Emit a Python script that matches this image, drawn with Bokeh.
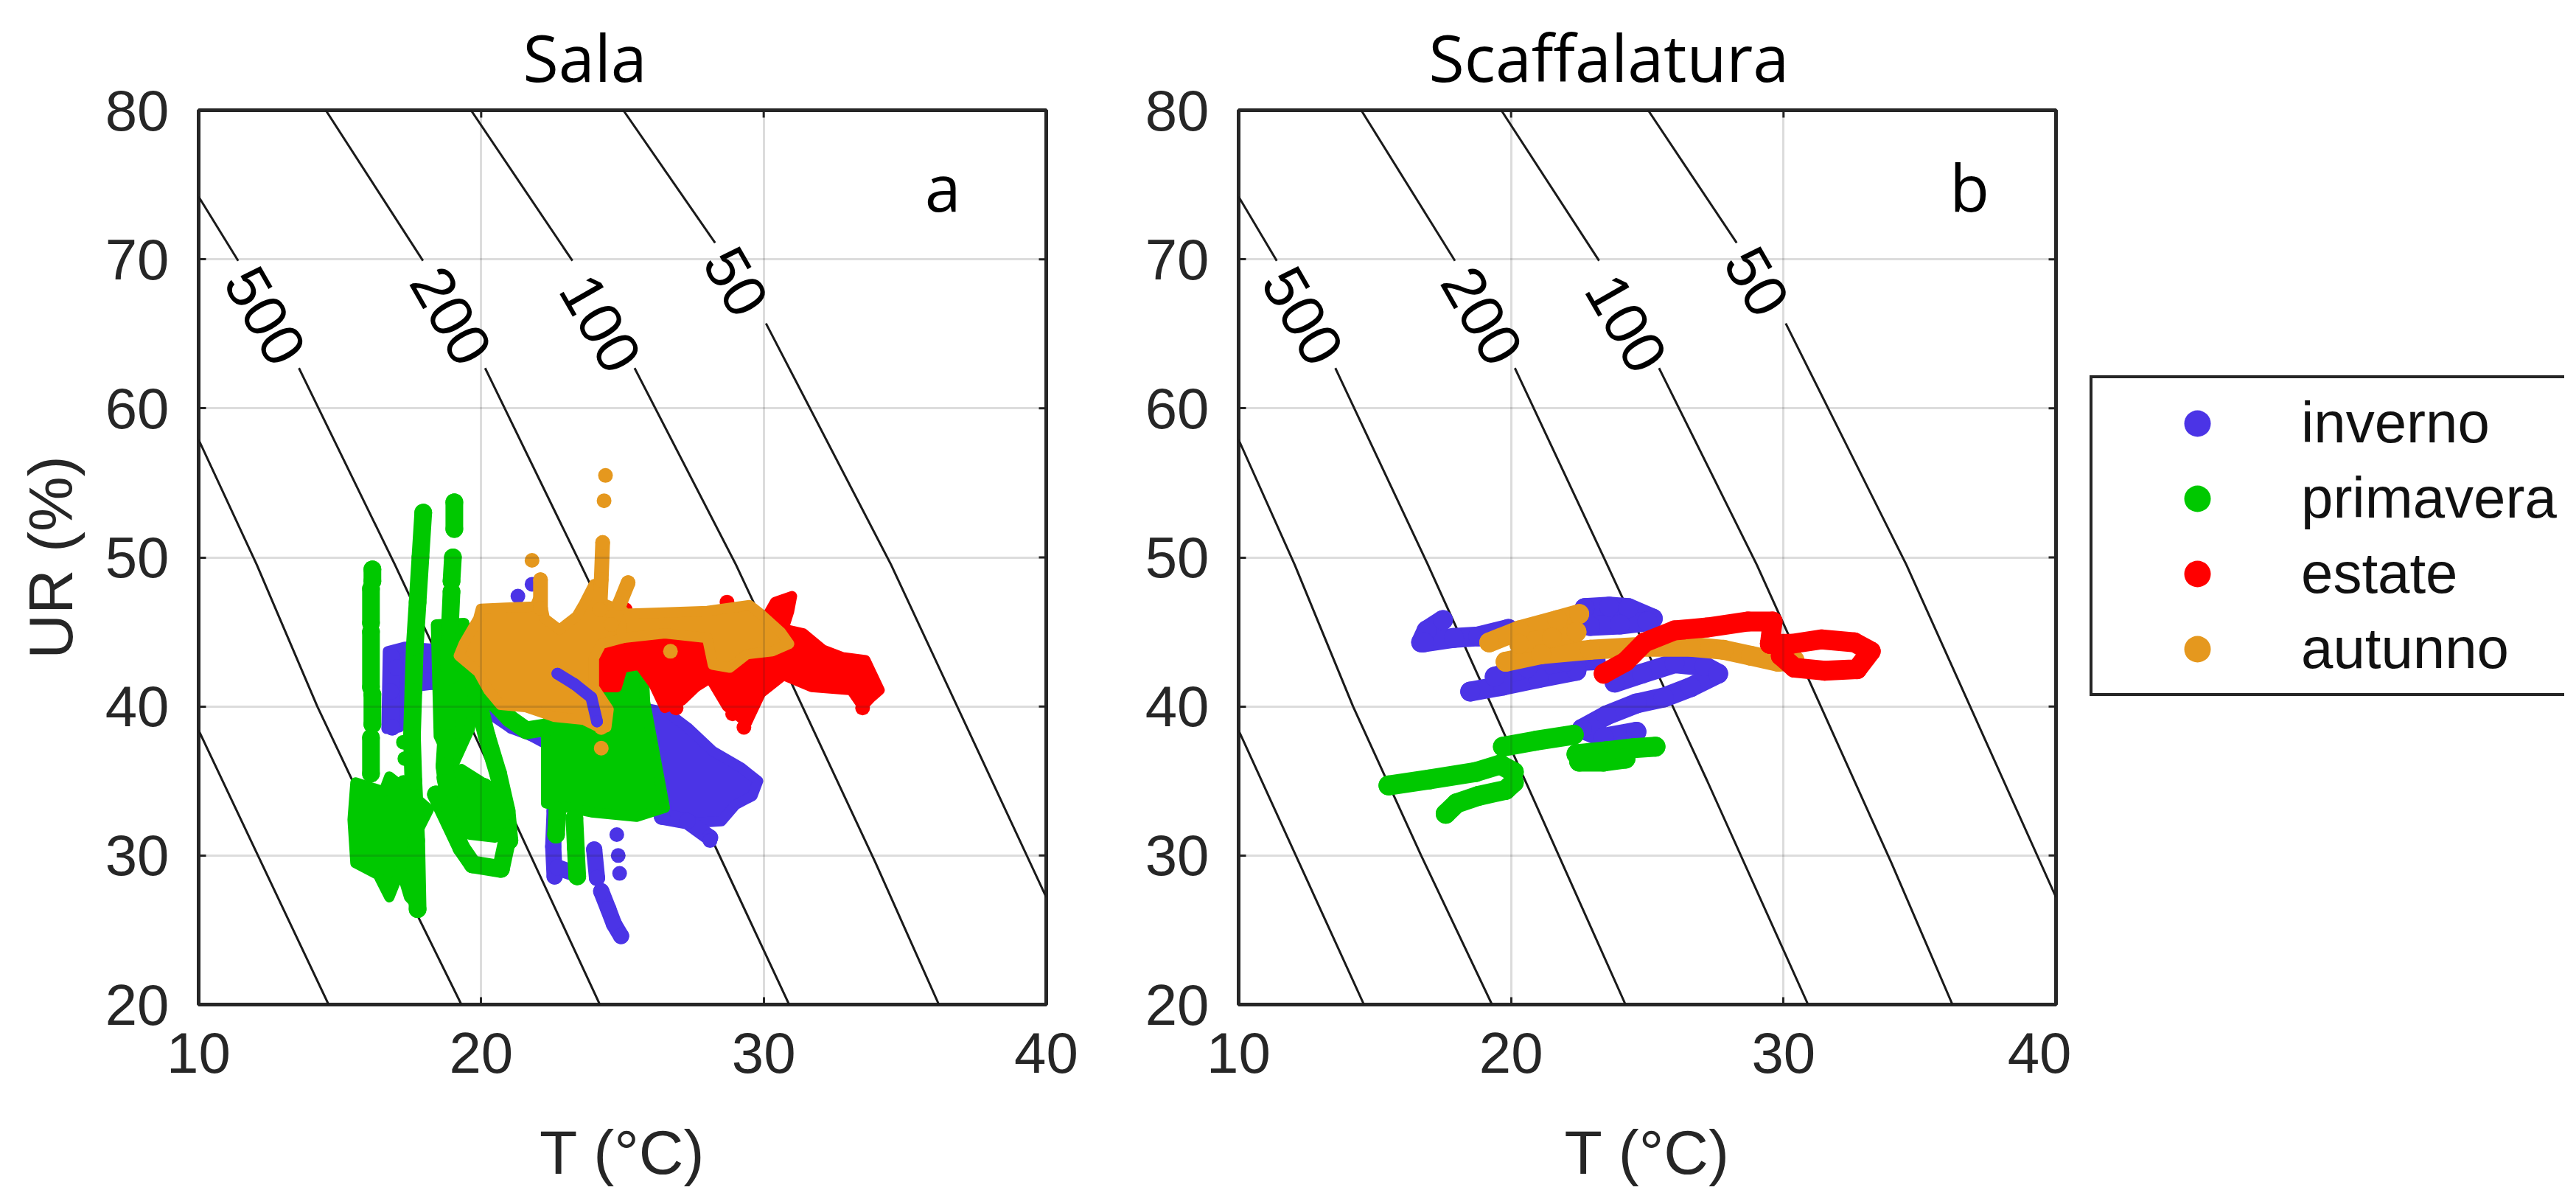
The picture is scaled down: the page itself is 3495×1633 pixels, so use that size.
from bokeh.plotting import figure
from bokeh.layouts import row
from bokeh.models import Range1d, FixedTicker, Legend, LegendItem
from bokeh.core.properties import value
from bokeh.embed import file_html
from bokeh.resources import INLINE

# ---------------- categories / ticks ----------------
season_names = ["inverno", "primavera", "estate", "autunno"]
season_colors = ["#4b34e6", "#00c800", "#ff0000", "#e5981e"]
panel_titles = ["Sala", "Scaffalatura"]
panel_letters = ["a", "b"]
x_tick_values = [10, 20, 30, 40]
y_tick_values = [20, 30, 40, 50, 60, 70, 80]

# ---------------- isochrones (T in degC, RH in %) ----------------
iso_label_text = ["500", "200", "100", "50"]
iso_label_T = [12.36, 18.94, 24.23, 29.02]
iso_label_RH = [66.2, 66.2, 65.7, 68.5]
iso_seg_T = [
    [10.0, 12.1, 14.6],
    [10.0, 12.06, 14.2, 16.7, 19.3],
    [10.0, 11.4],
    [13.55, 16.95, 19.3, 24.2],
    [14.5, 17.94],
    [20.14, 23.53, 27.2, 30.9],
    [19.64, 23.23],
    [25.43, 29.02, 30.85, 33.96, 36.2],
    [25.03, 28.28],
    [30.08, 34.51, 40.0],
]
iso_seg_RH = [
    [38.4, 30.0, 20.0],
    [57.9, 49.5, 40.0, 30.0, 20.0],
    [74.2, 69.9],
    [62.7, 49.5, 40.0, 20.0],
    [80.0, 69.9],
    [62.7, 49.5, 35.0, 20.0],
    [80.0, 69.9],
    [62.7, 49.5, 42.1, 29.5, 20.0],
    [80.0, 71.1],
    [65.7, 49.5, 27.2],
]

# ---------------- panel a (Sala) ----------------
a_inverno_strokes_T = [
    [16.85, 16.8, 16.85], [17.0, 17.8, 18.7], [17.7, 18.5],
    [19.6, 19.9, 20.4, 21.1, 21.8, 22.3],
    [22.6, 22.55, 22.6], [22.7, 23.3], [24.0, 24.1],
    [24.25, 24.5, 24.7, 24.95], [26.4, 27.3, 28.1],
]
a_inverno_strokes_RH = [
    [43.3, 41.0, 38.6], [42.6, 43.2, 42.8], [41.8, 41.6],
    [42.6, 41.0, 39.6, 38.7, 38.2, 37.7],
    [33.0, 30.6, 28.6], [29.2, 28.8], [30.4, 28.5],
    [27.6, 26.4, 25.4, 24.6], [32.6, 32.3, 31.2],
]
a_inverno_blobs_T = [
    [24.4, 25.5, 26.6, 27.3, 28.2, 29.2, 29.8, 29.6, 29.0, 28.5, 27.7, 26.6, 26.0, 25.5, 24.8],
    [16.7, 17.3, 18.7, 18.8, 17.2, 17.1, 16.65],
]
a_inverno_blobs_RH = [
    [40.0, 40.0, 39.6, 38.6, 37.0, 35.9, 35.0, 34.0, 33.4, 32.3, 32.2, 32.5, 35.0, 38.0, 39.2],
    [43.7, 44.0, 43.8, 41.6, 41.2, 38.6, 38.5],
]
a_inverno_dots_T = [21.3, 21.8, 24.8, 24.85, 24.9, 28.1]
a_inverno_dots_RH = [47.4, 48.2, 31.4, 30.0, 28.8, 31.0]
a_inverno_over_T = [[22.7, 23.3, 23.9, 24.1]]
a_inverno_over_RH = [[42.2, 41.5, 40.6, 39.0]]

a_primavera_strokes_T = [
    [16.15, 16.15], [16.1, 16.1], [16.1, 16.1], [16.15, 16.15], [16.1, 16.1],
    [17.95, 17.85, 17.75, 17.65, 17.6, 17.55, 17.6, 17.7, 17.75],
    [19.05, 19.05], [19.0, 18.95], [18.95, 18.9],
    [18.9, 18.85, 18.8, 18.7, 18.9, 19.2],
    [19.3, 19.8, 20.2, 20.6, 20.9, 21.0],
    [18.4, 19.3, 19.7, 20.7, 20.95, 20.1],
    [19.4, 20.2, 21.0, 21.6, 22.3],
    [23.3, 23.35, 23.4], [22.7, 22.65],
]
a_primavera_strokes_RH = [
    [49.2, 48.4], [47.9, 45.6], [45.0, 41.3], [40.8, 38.8], [37.9, 35.5],
    [53.0, 50.0, 47.0, 44.0, 41.0, 38.0, 35.0, 31.0, 26.4],
    [53.7, 51.9], [50.0, 48.4], [47.7, 45.6],
    [45.2, 42.0, 39.0, 36.0, 33.0, 31.0],
    [44.5, 41.0, 38.0, 35.5, 33.0, 31.0],
    [34.1, 30.5, 29.4, 29.1, 31.3, 34.6],
    [43.5, 40.8, 39.2, 38.4, 38.6],
    [32.5, 30.5, 28.6], [33.0, 31.4],
]
a_primavera_blobs_T = [
    [15.55, 16.55, 16.75, 17.55, 18.15, 17.75, 17.55, 17.75, 17.45, 17.15, 16.75, 16.35, 15.55, 15.45],
    [22.3, 23.5, 24.3, 25.1, 25.75, 25.8, 26.5, 25.5, 23.9, 22.3],
    [18.4, 19.4, 19.8, 19.6, 19.0, 18.5],
    [18.6, 19.3, 20.3, 20.9, 20.5, 19.6, 18.9],
]
a_primavera_blobs_RH = [
    [34.9, 34.3, 35.3, 34.1, 33.1, 31.6, 29.9, 26.6, 27.2, 29.1, 27.2, 28.7, 29.5, 32.4],
    [38.9, 40.6, 40.3, 43.2, 42.5, 40.3, 33.2, 32.6, 32.9, 33.5],
    [45.5, 45.6, 41.5, 38.5, 36.0, 38.0],
    [35.2, 35.8, 34.6, 32.2, 31.2, 31.4, 32.6],
]
a_primavera_dots_T = [17.25, 17.3, 17.25]
a_primavera_dots_RH = [37.6, 36.5, 34.9]

a_estate_blobs_T = [[24.1, 25.0, 26.1, 27.2, 28.1, 28.9, 29.5, 30.1, 30.4, 31.0, 30.9, 30.7, 31.4, 32.1, 32.8,
                     33.6, 33.8, 34.1, 33.8, 33.5, 33.1, 31.7, 30.7, 29.9, 29.5, 29.4, 28.7, 28.1, 27.6,
                     27.1, 26.5, 26.1, 25.6, 25.0, 24.8, 24.2]]
a_estate_blobs_RH = [[44.1, 44.6, 44.8, 44.7, 44.6, 44.6, 46.0, 46.0, 47.0, 47.4, 46.4, 45.2, 44.9, 43.8, 43.3,
                      43.1, 42.3, 41.1, 40.6, 40.0, 41.1, 41.3, 42.1, 40.9, 39.3, 38.9, 40.0, 41.9, 41.3,
                      40.4, 39.9, 41.5, 42.8, 42.6, 41.3, 41.3]]
a_estate_dots_T = [28.7, 25.2, 25.1, 29.3, 28.9, 26.9, 33.5]
a_estate_dots_RH = [47.0, 46.1, 46.5, 38.6, 39.5, 39.9, 39.9]

a_autunno_blobs_T = [
    [19.99, 20.86, 21.9, 22.08, 22.25, 22.77, 23.38, 23.64, 23.99, 24.34, 25.03, 25.03, 24.25, 23.99,
     23.99, 24.51, 24.43, 24.17, 23.64, 22.6, 21.56, 20.69, 20.25, 19.9, 19.21, 19.38, 19.9],
    [24.9, 26.5, 28.0, 29.5, 29.9, 30.6, 30.9, 30.3, 29.4, 28.8, 28.2, 28.0, 26.5, 25.0],
]
a_autunno_blobs_RH = [
    [46.55, 46.63, 46.7, 47.5, 45.9, 45.15, 46.05, 46.9, 48.2, 46.9, 46.4, 44.6, 44.2, 43.25,
     41.27, 39.8, 38.6, 38.6, 39.1, 39.3, 39.96, 40.1, 41.1, 42.3, 43.4, 44.2, 45.9],
    [46.2, 46.3, 46.4, 46.8, 46.2, 45.0, 44.2, 43.7, 43.5, 42.6, 42.8, 44.6, 44.9, 44.6],
]
a_autunno_strokes_T = [[24.3, 24.25, 24.2], [24.6, 24.9, 25.2], [22.1, 22.1], [24.25, 24.25]]
a_autunno_strokes_RH = [[51.0, 48.5, 46.5], [45.5, 46.9, 48.3], [48.5, 46.6], [40.1, 38.6]]
a_autunno_dots_T = [24.4, 24.35, 21.8, 24.25, 26.7]
a_autunno_dots_RH = [55.5, 53.8, 49.8, 37.2, 43.7]

# ---------------- panel b (Scaffalatura) ----------------
b_inverno_strokes_T = [
    [16.7, 16.9, 17.5], [16.8, 17.9, 18.8, 19.9],
    [22.7, 23.6, 24.3, 25.2], [22.9, 24.0, 25.0],
    [18.5, 19.7, 21.0, 22.4], [19.4, 20.6, 22.0, 23.1],
    [23.8, 24.8, 26.0, 27.1, 27.6, 26.6, 25.6, 24.6, 23.5, 22.6, 23.4, 24.6],
]
b_inverno_strokes_RH = [
    [44.3, 45.1, 45.8], [44.3, 44.6, 44.7, 45.2],
    [46.6, 46.7, 46.6, 45.9], [45.4, 45.5, 45.7],
    [41.0, 41.4, 41.9, 42.4], [42.0, 42.6, 43.0, 43.1],
    [41.6, 42.2, 42.9, 42.7, 42.2, 41.3, 40.6, 40.2, 39.4, 38.5, 37.9, 38.3],
]
b_primavera_strokes_T = [
    [15.5, 17.0, 18.7, 19.6, 20.1], [20.1, 19.8, 18.8, 18.0, 17.6],
    [19.7, 20.9, 22.3], [22.4, 23.5, 24.5, 25.3], [22.5, 23.4, 24.2],
]
b_primavera_strokes_RH = [
    [34.7, 35.1, 35.6, 36.1, 35.6], [34.9, 34.4, 34.0, 33.5, 32.8],
    [37.3, 37.7, 38.1], [36.8, 37.0, 37.2, 37.3], [36.3, 36.3, 36.5],
]
b_estate_strokes_T = [
    [23.4, 24.2, 24.9, 26.0, 27.2, 28.7, 29.6, 29.5],
    [29.5, 30.3, 31.4, 32.6, 33.2, 32.7, 31.5, 30.4, 29.9],
]
b_estate_strokes_RH = [
    [42.2, 43.0, 44.3, 45.1, 45.3, 45.7, 45.7, 44.2],
    [44.2, 44.2, 44.5, 44.3, 43.7, 42.5, 42.4, 42.6, 43.4],
]
b_autunno_strokes_T = [
    [19.2, 20.3, 21.7, 22.5],
    [19.8, 21.1, 22.9, 24.8, 26.6, 27.8, 28.8, 29.8, 30.4],
    [20.3, 21.5, 22.4],
]
b_autunno_strokes_RH = [
    [44.3, 45.1, 45.8, 46.2],
    [43.0, 43.5, 43.8, 44.0, 44.0, 43.8, 43.4, 43.0, 43.1],
    [44.2, 44.6, 45.0],
]

letter_T = [35.7, 36.1]
letter_RH = [74.9, 74.9]

INK = "#262626"
COL = dict(zip(season_names, season_colors))
TOP, BOTTOM = 149, 255
TICK_PX = 10


def style_ticks(ax):
    ax.axis_line_color = None
    ax.major_tick_in = TICK_PX
    ax.major_tick_out = 0
    ax.major_tick_line_width = 3
    ax.major_tick_line_color = INK
    ax.minor_tick_line_color = None


def base_panel(width, height, left, right, title, title_offset, ylabel):
    p = figure(width=width, height=height, output_backend="svg", toolbar_location=None,
               x_range=Range1d(10, 40), y_range=Range1d(20, 80),
               min_border_left=left, min_border_right=right, min_border_top=TOP, min_border_bottom=BOTTOM)
    p.title.text = title
    p.title.text_font = "Open Sans"
    p.title.text_font_size = "88px"
    p.title.text_font_style = "normal"
    p.title.text_color = "#000000"
    p.title.align = "left"
    p.title.offset = title_offset
    p.title.standoff = 25
    for ax in (p.xaxis[0], p.yaxis[0]):
        style_ticks(ax)
        ax.major_label_text_font = "Liberation Sans"
        ax.major_label_text_font_size = "78px"
        ax.major_label_text_color = INK
        ax.axis_label_text_font = "Liberation Sans"
        ax.axis_label_text_font_size = "84px"
        ax.axis_label_text_font_style = "normal"
        ax.axis_label_text_color = INK
    p.xaxis.ticker = FixedTicker(ticks=x_tick_values)
    p.yaxis.ticker = FixedTicker(ticks=y_tick_values)
    p.xaxis.axis_label = "T (°C)"
    p.xaxis.major_label_standoff = 38
    p.xaxis.axis_label_standoff = 58
    p.yaxis.major_label_standoff = 40
    if ylabel:
        p.yaxis.axis_label = ylabel
        p.yaxis.axis_label_standoff = 24
    p.outline_line_color = INK
    p.outline_line_width = 5
    p.outline_line_alpha = 1
    for g in (p.xgrid[0], p.ygrid[0]):
        g.grid_line_color = INK
        g.grid_line_alpha = 0.16
        g.grid_line_width = 3
        g.level = "overlay"
    p.background_fill_color = "white"
    p.border_fill_color = "white"
    # inward box ticks on the top and right edges, at the tick values
    frame_w = width - left - right
    frame_h = height - TOP - BOTTOM
    dy = TICK_PX * 60.0 / frame_h
    dx = TICK_PX * 30.0 / frame_w
    p.segment(x0=x_tick_values, x1=x_tick_values, y0=[80] * len(x_tick_values),
              y1=[80 - dy] * len(x_tick_values), line_color=INK, line_width=3)
    p.segment(x0=[40] * len(y_tick_values), x1=[40 - dx] * len(y_tick_values),
              y0=y_tick_values, y1=y_tick_values, line_color=INK, line_width=3)
    # isochrones
    p.multi_line(xs=iso_seg_T, ys=iso_seg_RH, line_color="#1a1a1a", line_width=3)
    p.text(x=iso_label_T, y=iso_label_RH, text=iso_label_text, angle=-1.05,
           text_font=value("Liberation Sans"), text_font_size="82px", text_color="#000000",
           text_align="center", text_baseline="middle")
    return p


def flat(lst):
    return [v for sub in lst for v in sub]


def draw_strokes(p, xs, ys, color, w):
    p.multi_line(xs=xs, ys=ys, line_color=color, line_width=w, line_cap="round", line_join="round")
    p.scatter(x=flat(xs), y=flat(ys), size=w, color=color, line_color=None)


def draw_blobs(p, xs, ys, color):
    p.patches(xs=xs, ys=ys, fill_color=color, line_color=color, line_width=14, line_join="round")


def draw_dots(p, x, y, color):
    p.scatter(x=x, y=y, size=20, color=color, line_color=None)


# ---------------- panel a ----------------
pa = base_panel(1500, 1617, 269, 81, panel_titles[0], 440, "UR (%)")
draw_blobs(pa, a_inverno_blobs_T, a_inverno_blobs_RH, COL["inverno"])
draw_strokes(pa, a_inverno_strokes_T, a_inverno_strokes_RH, COL["inverno"], 22)
draw_dots(pa, a_inverno_dots_T, a_inverno_dots_RH, COL["inverno"])
draw_blobs(pa, a_primavera_blobs_T, a_primavera_blobs_RH, COL["primavera"])
draw_strokes(pa, a_primavera_strokes_T, a_primavera_strokes_RH, COL["primavera"], 24)
draw_dots(pa, a_primavera_dots_T, a_primavera_dots_RH, COL["primavera"])
draw_blobs(pa, a_estate_blobs_T, a_estate_blobs_RH, COL["estate"])
draw_dots(pa, a_estate_dots_T, a_estate_dots_RH, COL["estate"])
draw_blobs(pa, a_autunno_blobs_T, a_autunno_blobs_RH, COL["autunno"])
draw_strokes(pa, a_autunno_strokes_T, a_autunno_strokes_RH, COL["autunno"], 20)
draw_dots(pa, a_autunno_dots_T, a_autunno_dots_RH, COL["autunno"])
draw_strokes(pa, a_inverno_over_T, a_inverno_over_RH, COL["inverno"], 16)
pa.text(x=[letter_T[0]], y=[letter_RH[0]], text=[panel_letters[0]], text_font=value("Open Sans"),
        text_font_size="88px", text_color="#000000", text_align="left", text_baseline="alphabetic")

# ---------------- panel b ----------------
pb = base_panel(1310, 1617, 180, 21, panel_titles[1], 258, None)
draw_strokes(pb, b_inverno_strokes_T, b_inverno_strokes_RH, COL["inverno"], 27)
draw_strokes(pb, b_primavera_strokes_T, b_primavera_strokes_RH, COL["primavera"], 27)
draw_strokes(pb, b_autunno_strokes_T, b_autunno_strokes_RH, COL["autunno"], 27)
draw_strokes(pb, b_estate_strokes_T, b_estate_strokes_RH, COL["estate"], 27)
pb.text(x=[letter_T[1]], y=[letter_RH[1]], text=[panel_letters[1]], text_font=value("Open Sans"),
        text_font_size="88px", text_color="#000000", text_align="left", text_baseline="alphabetic")

# ---------------- legend (own figure, frame aligned with the panels) ----------------
pl = figure(width=669, height=1617, output_backend="svg", toolbar_location=None,
            x_range=Range1d(0, 1), y_range=Range1d(0, 1),
            x_axis_location=None, y_axis_location=None,
            min_border_left=0, min_border_right=0, min_border_top=TOP, min_border_bottom=BOTTOM)
pl.grid.visible = False
pl.outline_line_color = None
pl.background_fill_color = "white"
pl.border_fill_color = "white"
items = []
for name, col in zip(season_names, season_colors):
    r = pl.scatter(x=[-5], y=[-5], size=34, color=col, line_color=None)
    items.append(LegendItem(label=name, renderers=[r]))
leg = Legend(items=items, location=(25, 418), orientation="vertical",
             label_text_font="Liberation Sans", label_text_font_size="78px", label_text_color="#111111",
             glyph_width=254, glyph_height=90, label_height=90, label_standoff=14,
             spacing=11, padding=15, margin=0,
             border_line_color=INK, border_line_width=4, border_line_alpha=1,
             background_fill_color="white", background_fill_alpha=1)
pl.add_layout(leg)

layout = row(pa, pb, pl, spacing=0)
open("out.html", "w").write(file_html(layout, INLINE))
